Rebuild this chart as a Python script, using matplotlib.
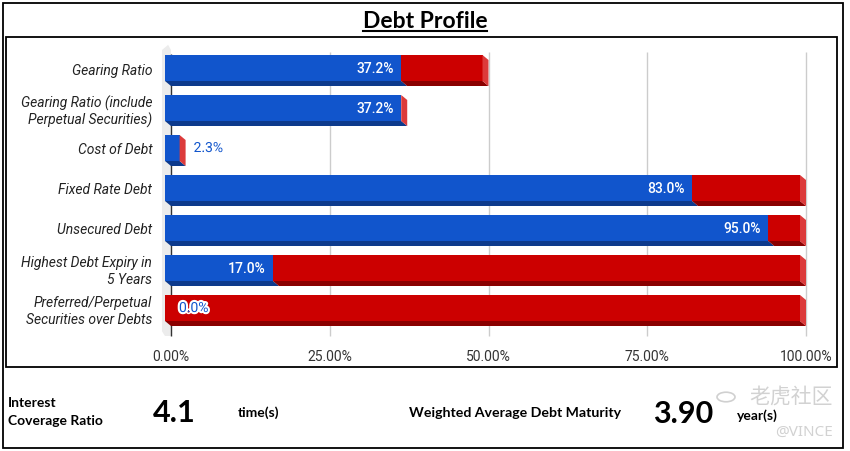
import matplotlib
matplotlib.use("Agg")
import matplotlib.pyplot as plt
from matplotlib.patches import Polygon, Rectangle, Circle
from matplotlib.lines import Line2D
import matplotlib.patheffects as pe

plt.rcParams["font.family"] = ["Roboto", "DejaVu Sans"]

# ── Data ─────────────────────────────────────────────────────────────────────
categories = [
    "Gearing Ratio",
    "Gearing Ratio (include\nPerpetual Securities)",
    "Cost of Debt",
    "Fixed Rate Debt",
    "Unsecured Debt",
    "Highest Debt Expiry in\n5 Years",
    "Preferred/Perpetual\nSecurities over Debts",
]
blue_vals = [37.2, 37.2, 2.3, 83.0, 95.0, 17.0, 0.0]
red_vals  = [12.8, 0.0, 0.0, 17.0, 5.0, 83.0, 100.0]
x_ticks   = [0, 25, 50, 75, 100]
x_labels  = ["0.00%", "25.00%", "50.00%", "75.00%", "100.00%"]

icr_value, icr_unit = "4.1", "time(s)"
wadm_value, wadm_unit = "3.90", "year(s)"

BLUE, BLUE_DK = "#1155cc", "#0d3a8c"
RED, RED_DK, RED_SIDE = "#cc0000", "#8a0000", "#dc3b3b"

W, H = 850, 452
fig = plt.figure(figsize=(W / 100, H / 100), dpi=100)


def fx(px):
    return px / W


def fy(py):
    return 1 - py / H


# ── Frames ───────────────────────────────────────────────────────────────────
fig.patches.append(Rectangle((fx(3), fy(449)), fx(843) - fx(3), fy(4) - fy(449),
                             fill=False, lw=1.3, ec="black", transform=fig.transFigure))
fig.patches.append(Rectangle((fx(6), fy(368)), fx(837) - fx(6), fy(38) - fy(368),
                             fill=False, lw=1.3, ec="black", transform=fig.transFigure))

# ── Chart axes ───────────────────────────────────────────────────────────────
ax = fig.add_axes([fx(155), fy(340), fx(820) - fx(155), fy(45) - fy(340)])
ax.set_xlim((155 - 171) / 6.35, (820 - 171) / 6.35)
ax.set_ylim(6.775, -0.6)
for s in ax.spines.values():
    s.set_visible(False)

dx = 6 / 6.35      # 3D depth in x (data units)
hh = 0.325         # half height of front face
dp = 0.125         # depth in y

# axis wall (slanted strip behind the bars)
ax.add_patch(Polygon([(-1.42, -0.45), (-0.45, -0.58), (0, -0.45), (0, 6.7),
                      (-0.95, 6.7), (-1.42, 6.58)],
                     color="#ececec", zorder=0, lw=0))
ax.vlines(x_ticks[1:], -0.4, 6.7, color="#cccccc", lw=1, zorder=1)
ax.vlines(0, -0.35, 6.7, color="#333333", lw=1, zorder=1)

ys = list(range(len(categories)))
ax.barh(ys, blue_vals, left=-dx, height=2 * hh, color=BLUE, zorder=3, lw=0)
ax.barh(ys, red_vals, left=[b - dx for b in blue_vals], height=2 * hh,
        color=RED, zorder=3, lw=0)

for y, b, r in zip(ys, blue_vals, red_vals):
    t = b + r
    bot = y + hh
    # bottom depth faces
    if b > 0:
        ax.add_patch(Polygon([(-dx, bot), (b - dx, bot), (b, bot + dp), (0, bot + dp)],
                             color=BLUE_DK, lw=0, zorder=3))
    if r > 0:
        ax.add_patch(Polygon([(b - dx, bot), (t - dx, bot), (t, bot + dp), (b, bot + dp)],
                             color=RED_DK, lw=0, zorder=3))
    # right side face
    ax.add_patch(Polygon([(t - dx, y - hh), (t, y - hh + dp), (t, bot + dp), (t - dx, bot)],
                         color=RED_SIDE, lw=0, zorder=3))
    # value label
    lab = f"{b:.1f}%"
    if b > 12:
        ax.annotate(lab, (b - dx, y), xytext=(-7, 0), textcoords="offset pixels",
                    ha="right", va="center", color="white", fontsize=10,
                    fontweight="medium", zorder=5)
    else:
        ax.annotate(lab, (b, y), xytext=(8, 0), textcoords="offset pixels",
                    ha="left", va="center", color=BLUE, fontsize=10, zorder=5,
                    path_effects=[pe.withStroke(linewidth=3, foreground="white")])

ax.set_yticks(ys)
ax.set_yticklabels(categories, fontsize=10, style="italic", color="#222222")
ax.set_xticks(x_ticks)
ax.set_xticklabels(x_labels, fontsize=10, color="#333333")
ax.tick_params(axis="y", length=0, pad=2)
ax.tick_params(axis="x", length=0, pad=7)

# ── Title ────────────────────────────────────────────────────────────────────
title = fig.text(fx(425), fy(22), "Debt Profile", ha="center", va="center",
                 family="Lato", fontweight="bold", fontsize=16.5)
fig.canvas.draw()
bb = title.get_window_extent()
fig.add_artist(Line2D([bb.x0 / W, bb.x1 / W], [fy(31.5), fy(31.5)], color="black",
                      lw=1.5, transform=fig.transFigure))

# ── Bottom metrics ───────────────────────────────────────────────────────────
bold = dict(family="Lato", fontweight="bold", fontsize=10, va="center")
fig.text(fx(8), fy(403), "Interest", ha="left", **bold)
fig.text(fx(8), fy(421), "Coverage Ratio", ha="left", **bold)
fig.text(fx(153), fy(413), icr_value, ha="left", va="center", family="Lato",
         fontweight="bold", fontsize=22)
fig.text(fx(238), fy(413), icr_unit, ha="left", **bold)
fig.text(fx(409), fy(413), "Weighted Average Debt Maturity", ha="left",
         **{**bold, "fontsize": 10.2})
fig.text(fx(653), fy(414), wadm_value, ha="left", va="center", family="Lato",
         fontweight="bold", fontsize=22)
fig.text(fx(737), fy(416), wadm_unit, ha="left", **bold)

# watermark
fig.patches.append(Circle((fx(726), fy(398)), 9 / W, fill=False, ec="#d0d0d0", lw=1.2,
                          transform=fig.transFigure))
fig.text(fx(833), fy(397), "老虎社区", ha="right", va="center", color="#d2d2d2",
         family=["Noto Sans CJK SC", "DejaVu Sans"], fontsize=15)
fig.text(fx(833), fy(432), "@VINCE", ha="right", va="center", color="#d2d2d2",
         family=["Noto Sans", "DejaVu Sans"], fontsize=11)

fig.savefig("out.png", dpi=100)
